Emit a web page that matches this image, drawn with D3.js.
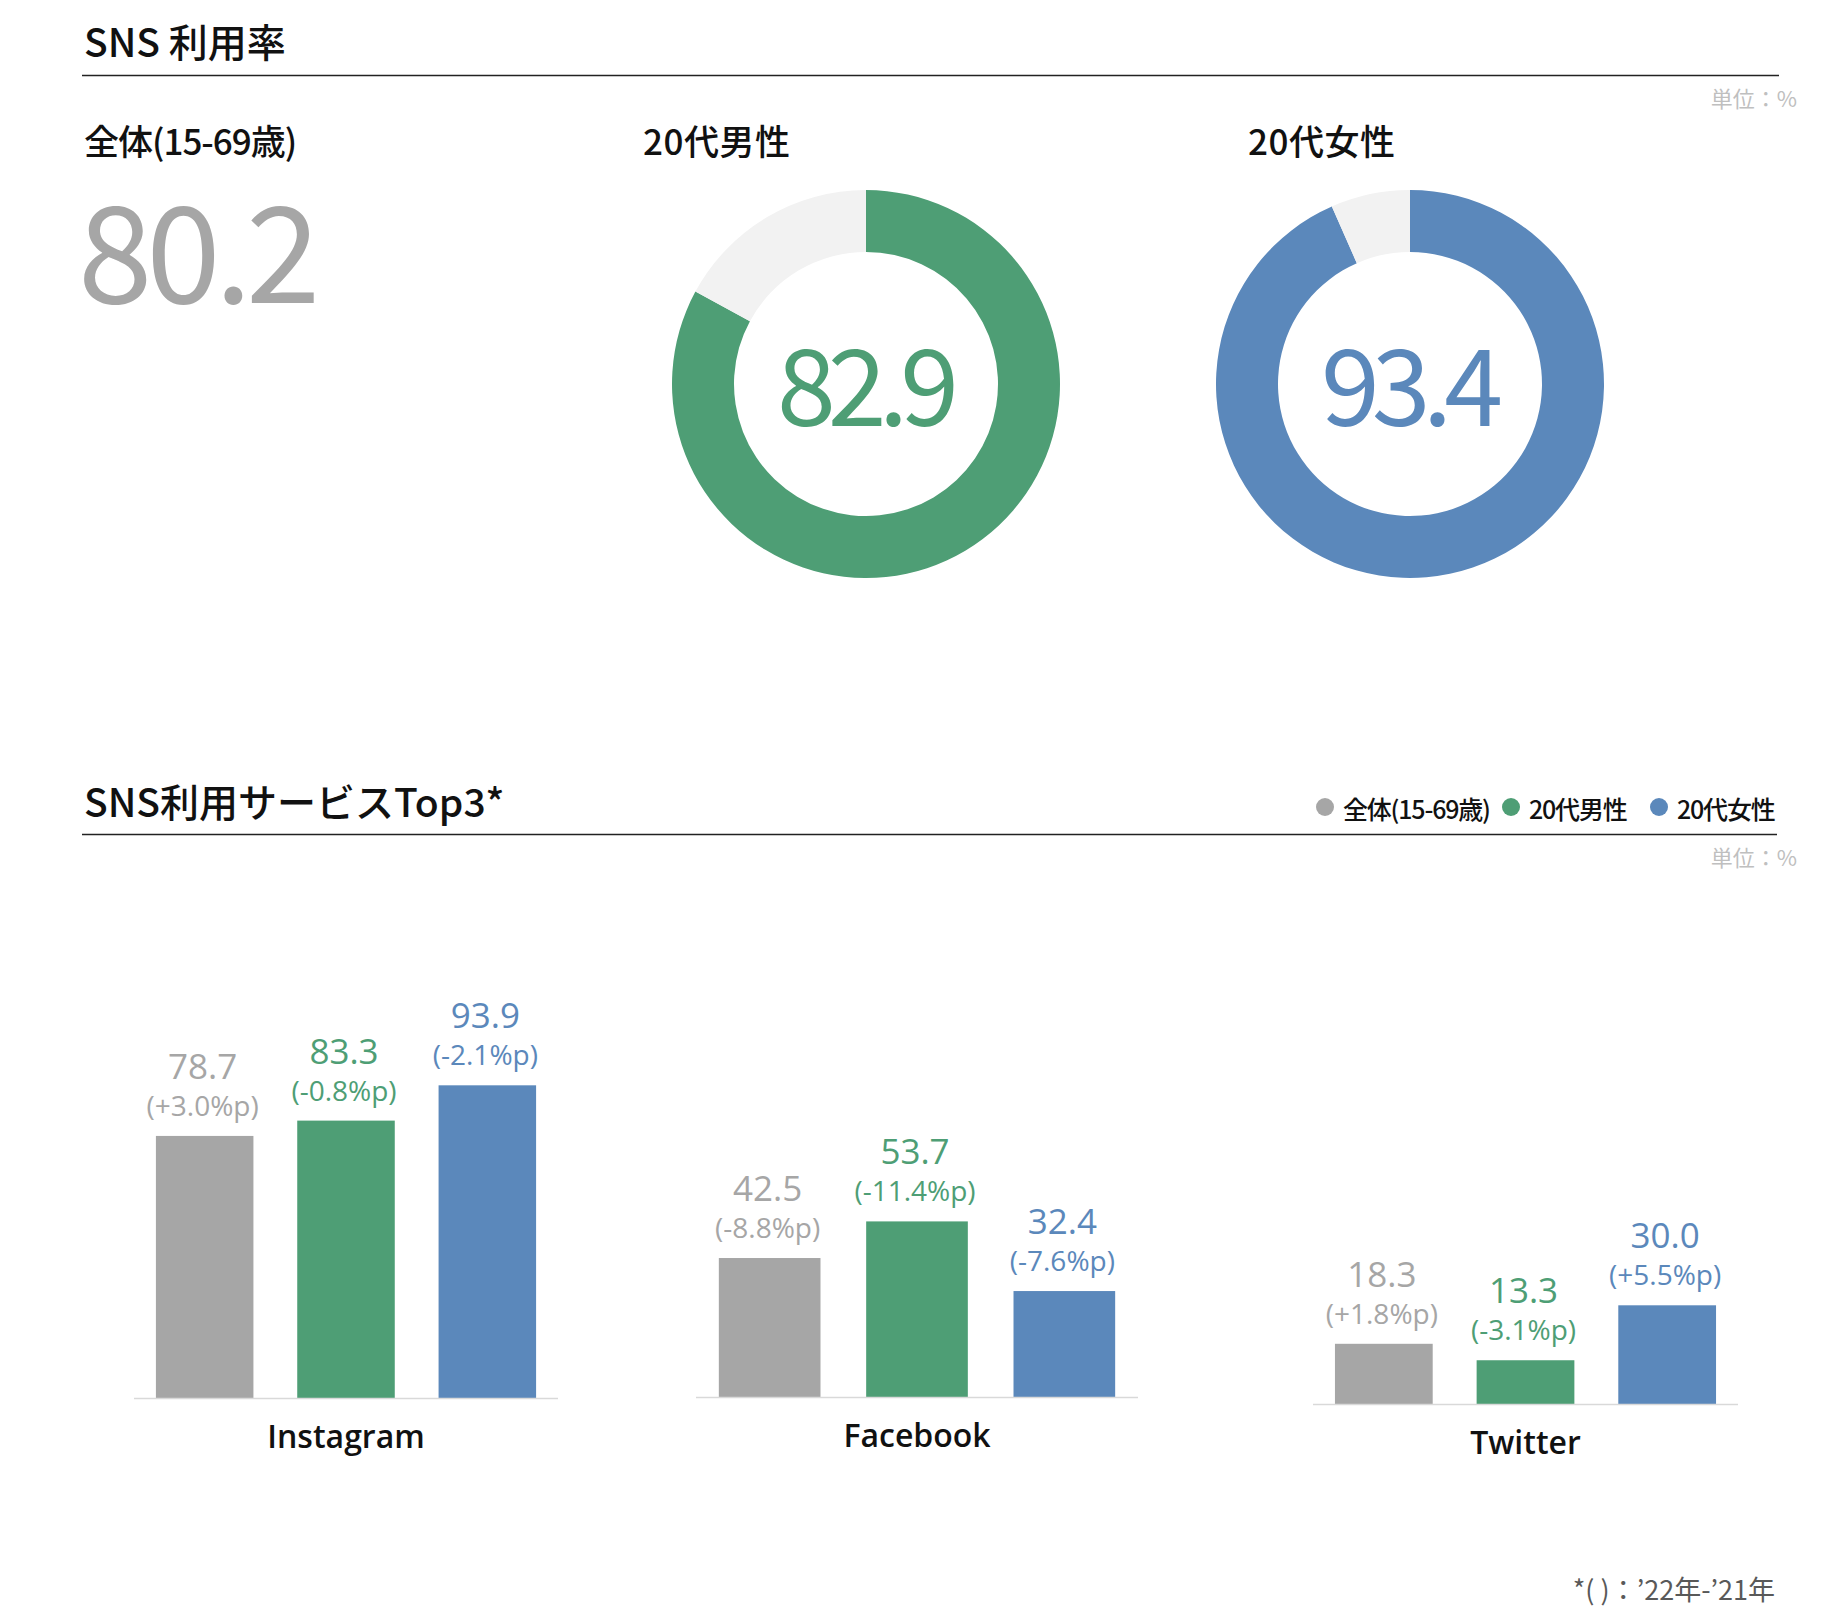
<!DOCTYPE html>
<html>
<head>
<meta charset="utf-8">
<script src="https://cdn.jsdelivr.net/npm/d3@7"></script>
<style>
  html, body { margin: 0; padding: 0; background: #fff; }
  svg { display: block; }
  .cjk { font-family: "Noto Sans CJK JP", "Noto Sans", sans-serif; }
  .lat { font-family: "Open Sans", "Noto Sans", sans-serif; }
</style>
</head>
<body>
<script>
// ---------- data ----------
const groups = ["全体(15-69歳)", "20代男性", "20代女性"];
const snsRate = [80.2, 82.9, 93.4];
const groupColors = ["#a6a6a6", "#4e9e75", "#5b88bb"];
const restColor = "#f2f2f2";

const services = ["Instagram", "Facebook", "Twitter"];
const instagramValues = [78.7, 83.3, 93.9];
const facebookValues = [42.5, 53.7, 32.4];
const twitterValues = [18.3, 13.3, 30.0];
const instagramDelta = [3.0, -0.8, -2.1];
const facebookDelta = [-8.8, -11.4, -7.6];
const twitterDelta = [1.8, -3.1, 5.5];

const title1 = "SNS 利用率";
const title2 = "SNS利用サービスTop3*";
const unitLabel = "単位：%";
const footnote = "*( )：’22年-’21年";

// ---------- drawing ----------
const W = 1841, H = 1623;
const svg = d3.select("body").append("svg").attr("width", W).attr("height", H);

// section 1 header
svg.append("text").attr("class", "cjk").attr("x", 84).attr("y", 57)
  .attr("font-size", 39).attr("font-weight", 500).attr("fill", "#111").text(title1);
svg.append("line").attr("x1", 82).attr("x2", 1779).attr("y1", 75.5).attr("y2", 75.5)
  .attr("stroke", "#222").attr("stroke-width", 1.3);
svg.append("text").attr("class", "cjk").attr("x", 1797).attr("y", 107)
  .attr("text-anchor", "end").attr("font-size", 22).attr("fill", "#bfbfbf").text(unitLabel);

// group titles
const groupTitleX = [84, 643, 1248];
groups.forEach((g, i) => {
  svg.append("text").attr("class", "cjk").attr("x", groupTitleX[i]).attr("y", 155)
    .attr("font-size", 35).attr("font-weight", 500).attr("letter-spacing", i === 0 ? -1 : 0.5)
    .attr("fill", "#111").text(g);
});

// overall big number
svg.append("text").attr("class", "cjk").attr("x", 78).attr("y", 303)
  .attr("font-size", 134).attr("letter-spacing", -6).attr("fill", groupColors[0])
  .text(snsRate[0].toFixed(1));

// donuts
const donutCX = [null, 866, 1410];
const donutCY = 384;
const arc = d3.arc().innerRadius(132).outerRadius(194);
const pie = d3.pie().sort(null).value(d => d.v);
[1, 2].forEach(i => {
  const g = svg.append("g").attr("transform", `translate(${donutCX[i]},${donutCY})`);
  const data = pie([{ v: snsRate[i], c: groupColors[i] }, { v: 100 - snsRate[i], c: restColor }]);
  g.selectAll("path").data(data).join("path").attr("d", arc).attr("fill", d => d.data.c);
  g.append("text").attr("class", "cjk").attr("x", -2).attr("y", 42)
    .attr("text-anchor", "middle").attr("font-size", 106).attr("letter-spacing", -8)
    .attr("fill", groupColors[i]).text(snsRate[i].toFixed(1));
});

// section 2 header
svg.append("text").attr("class", "cjk").attr("x", 84).attr("y", 817)
  .attr("font-size", 39).attr("font-weight", 500).attr("fill", "#111").text(title2);
svg.append("line").attr("x1", 82).attr("x2", 1777).attr("y1", 834.5).attr("y2", 834.5)
  .attr("stroke", "#222").attr("stroke-width", 1.3);
svg.append("text").attr("class", "cjk").attr("x", 1797).attr("y", 866)
  .attr("text-anchor", "end").attr("font-size", 22).attr("fill", "#bfbfbf").text(unitLabel);

// legend
const legendDotX = [1325, 1511, 1659];
groups.forEach((g, i) => {
  svg.append("circle").attr("cx", legendDotX[i]).attr("cy", 807).attr("r", 9).attr("fill", groupColors[i]);
  svg.append("text").attr("class", "cjk").attr("x", legendDotX[i] + 18).attr("y", 819)
    .attr("font-size", 25).attr("font-weight", 500).attr("letter-spacing", -1.2)
    .attr("fill", "#111").text(g);
});

// bar panels
const panelValues = [instagramValues, facebookValues, twitterValues];
const panelDeltas = [instagramDelta, facebookDelta, twitterDelta];
const panels = [
  { x0: 134, x1: 558, base: 1398, h: 333 },
  { x0: 696, x1: 1138, base: 1397, h: 327 },
  { x0: 1313, x1: 1738, base: 1404, h: 329 }
];
const fmtDelta = d => `(${d > 0 ? "+" : ""}${d.toFixed(1)}%p)`;

services.forEach((s, p) => {
  const P = panels[p];
  const x = d3.scaleBand().domain(groups).range([P.x0, P.x1]).paddingInner(0.31).paddingOuter(0.155);
  const y = d3.scaleLinear().domain([0, 100]).range([P.base, P.base - P.h]);
  const g = svg.append("g");
  const vals = panelValues[p], dels = panelDeltas[p];
  g.selectAll("rect").data(groups).join("rect")
    .attr("x", d => x(d)).attr("width", x.bandwidth())
    .attr("y", (d, i) => y(vals[i])).attr("height", (d, i) => y(0) - y(vals[i]))
    .attr("fill", (d, i) => groupColors[i]);
  g.append("line").attr("x1", P.x0).attr("x2", P.x1).attr("y1", P.base + 0.5).attr("y2", P.base + 0.5)
    .attr("stroke", "#d9d9d9").attr("stroke-width", 1.5);
  g.selectAll("text.val").data(groups).join("text").attr("class", "val lat")
    .attr("x", d => x(d) + x.bandwidth() / 2 - 2).attr("y", (d, i) => y(vals[i]) - 57)
    .attr("text-anchor", "middle").attr("font-size", 35).attr("fill", (d, i) => groupColors[i])
    .text((d, i) => vals[i].toFixed(1));
  g.selectAll("text.del").data(groups).join("text").attr("class", "del lat")
    .attr("x", d => x(d) + x.bandwidth() / 2 - 2).attr("y", (d, i) => y(vals[i]) - 20)
    .attr("text-anchor", "middle").attr("font-size", 28).attr("fill", (d, i) => groupColors[i])
    .text((d, i) => fmtDelta(dels[i]));
  g.append("text").attr("class", "lat").attr("x", (P.x0 + P.x1) / 2).attr("y", P.base + 50)
    .attr("text-anchor", "middle").attr("font-size", 32).attr("font-weight", 600)
    .attr("fill", "#111").text(s);
});

// footnote
svg.append("text").attr("class", "cjk").attr("x", 1775).attr("y", 1600)
  .attr("text-anchor", "end").attr("font-size", 27).attr("letter-spacing", 0)
  .attr("fill", "#595959").text(footnote);
</script>
</body>
</html>
